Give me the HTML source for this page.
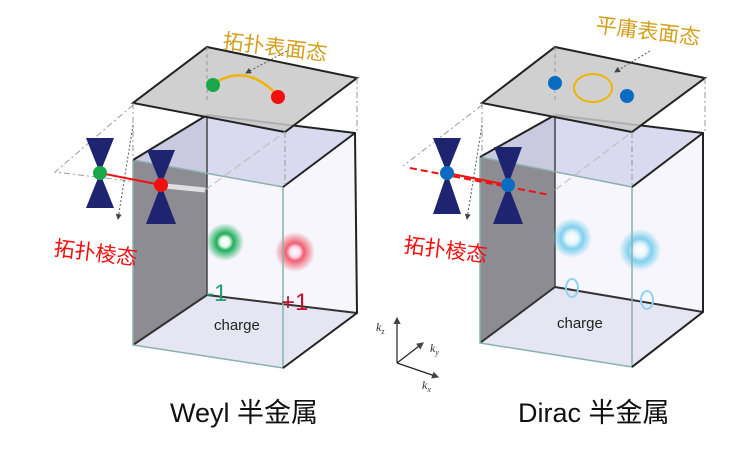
<!DOCTYPE html>
<html><head><meta charset="utf-8"><style>
html,body{margin:0;padding:0;background:#fff;width:750px;height:450px;overflow:hidden}
</style></head><body>
<svg width="750" height="450" viewBox="0 0 750 450" xmlns="http://www.w3.org/2000/svg" font-family="Liberation Sans, Noto Sans CJK SC, sans-serif">
<defs>
<radialGradient id="gG"><stop offset="0" stop-color="#fff"/><stop offset="0.25" stop-color="#e8f8ee"/><stop offset="0.45" stop-color="#1fae5a"/><stop offset="1" stop-color="#1fae5a" stop-opacity="0"/></radialGradient>
<radialGradient id="gR"><stop offset="0" stop-color="#fff"/><stop offset="0.25" stop-color="#fde"/><stop offset="0.45" stop-color="#f06070"/><stop offset="1" stop-color="#f06070" stop-opacity="0"/></radialGradient>
<radialGradient id="gC"><stop offset="0" stop-color="#fff"/><stop offset="0.3" stop-color="#e8f6fb"/><stop offset="0.55" stop-color="#7fd0ee"/><stop offset="1" stop-color="#7fd0ee" stop-opacity="0"/></radialGradient>
<marker id="ar" markerWidth="6" markerHeight="6" refX="5" refY="3" orient="auto"><path d="M0,0 L6,3 L0,6 z" fill="#444"/></marker>
</defs>

<g>
<polygon points="133,160 207,115 207,295 133,345" fill="#8c8c92"/>
<polygon points="207,115 355,133 357,313 207,295" fill="#f6f6fc"/>
<polygon points="133,345 207,295 357,313 283,368" fill="#e6e6f2"/>
<polygon points="133,160 207,115 355,133 283,187" fill="#d4d4ec" opacity="0.85"/>
<line x1="207" y1="115" x2="207" y2="295" stroke="#444" stroke-width="1.5"/>
<line x1="207" y1="295" x2="357" y2="313" stroke="#333" stroke-width="2"/>
<line x1="207" y1="295" x2="133" y2="345" stroke="#333" stroke-width="2"/>
<circle cx="225" cy="242" r="19" fill="url(#gG)"/>
<circle cx="295" cy="252" r="20" fill="url(#gR)"/>
<polyline points="133,160 133,345 283,368 283,187 133,160" fill="none" stroke="#8ab0b0" stroke-width="1.5"/>
<polyline points="133,160 207,115" fill="none" stroke="#222" stroke-width="2"/>
<polyline points="207,115 355,133 357,313 283,368" fill="none" stroke="#222" stroke-width="2"/>
<line x1="283" y1="187" x2="355" y2="133" stroke="#222" stroke-width="2"/>
<polygon points="207,47 357,78 285,132 133,103" fill="#c8c8c8" fill-opacity="0.85" stroke="#222" stroke-width="2"/>
<line x1="207" y1="47" x2="207" y2="103" stroke="#999" stroke-dasharray="4,3"/>
<line x1="357" y1="78" x2="357" y2="133" stroke="#999" stroke-dasharray="6,3,2,3"/>
<line x1="285" y1="132" x2="285" y2="187" stroke="#999" stroke-dasharray="6,3,2,3"/>
<line x1="133" y1="103" x2="133" y2="160" stroke="#999" stroke-dasharray="6,3,2,3"/>
<polyline points="133,105 55,172 205,190" fill="none" stroke="#999" stroke-dasharray="6,3,2,3"/>
<line x1="205" y1="190" x2="285" y2="132" stroke="#bbb" stroke-dasharray="8,4"/>
<line x1="133" y1="125" x2="118" y2="219" stroke="#555" stroke-dasharray="2,2" marker-end="url(#ar)"/>
<line x1="287" y1="51" x2="246" y2="73" stroke="#555" stroke-dasharray="2,2" marker-end="url(#ar)"/>
<path d="M213,84 Q247,62 278,96" fill="none" stroke="#f0b400" stroke-width="2.5"/>
<circle cx="213" cy="85" r="7" fill="#1aa64a"/>
<circle cx="278" cy="97" r="7" fill="#f01010"/>
<line x1="165" y1="186" x2="205" y2="190" stroke="#e0e0e0" stroke-width="5"/>
<polygon points="86,138 114,138 100,173 86,208 114,208 100,173" fill="#1e2470"/>
<polygon points="147,150 175,150 161,185 146,224 176,224 161,185" fill="#1e2470"/>
<line x1="100" y1="173" x2="161" y2="185" stroke="#f01010" stroke-width="2"/>
<circle cx="100" cy="173" r="7" fill="#1aa64a"/>
<circle cx="161" cy="185" r="7" fill="#f01010"/>
<text x="206" y="301" font-size="24" fill="#20a070">-1</text>
<text x="281" y="310" font-size="24" fill="#c01030">+1</text>
<text x="214" y="330" font-size="15" fill="#222">charge</text>
<text x="222" y="48" font-size="21" fill="#d4a020" transform="rotate(7 222 48)">拓扑表面态</text>
<text x="53" y="255" font-size="21" fill="#f01010" transform="rotate(7 53 255)">拓扑棱态</text>
<text x="170" y="422" font-size="27" fill="#111">Weyl 半金属</text>
</g>

<g>
<polygon points="480,157 555,115 555,287 480,343" fill="#8c8c92"/>
<polygon points="555,115 703,133 703,312 555,287" fill="#f6f6fc"/>
<polygon points="480,343 555,287 703,312 632,367" fill="#e6e6f2"/>
<polygon points="480,157 555,115 703,133 632,187" fill="#d4d4ec" opacity="0.85"/>
<line x1="555" y1="115" x2="555" y2="287" stroke="#444" stroke-width="1.5"/>
<line x1="555" y1="287" x2="703" y2="312" stroke="#333" stroke-width="2"/>
<line x1="555" y1="287" x2="480" y2="343" stroke="#333" stroke-width="2"/>
<circle cx="572" cy="238" r="20" fill="url(#gC)"/>
<circle cx="640" cy="250" r="21" fill="url(#gC)"/>
<ellipse cx="572" cy="288" rx="6" ry="9" fill="none" stroke="#8fd4f0" stroke-width="2"/>
<ellipse cx="647" cy="300" rx="6" ry="9" fill="none" stroke="#8fd4f0" stroke-width="2"/>
<polyline points="480,157 480,343 632,367 632,187 480,157" fill="none" stroke="#8ab0b0" stroke-width="1.5"/>
<line x1="480" y1="157" x2="555" y2="115" stroke="#222" stroke-width="2"/>
<polyline points="555,115 703,133 703,312 632,367" fill="none" stroke="#222" stroke-width="2"/>
<line x1="632" y1="187" x2="703" y2="133" stroke="#222" stroke-width="2"/>
<polygon points="555,47 705,78 632,132 482,103" fill="#c8c8c8" fill-opacity="0.85" stroke="#222" stroke-width="2"/>
<line x1="555" y1="47" x2="555" y2="103" stroke="#999" stroke-dasharray="4,3"/>
<line x1="705" y1="78" x2="705" y2="133" stroke="#999" stroke-dasharray="6,3,2,3"/>
<line x1="632" y1="132" x2="632" y2="187" stroke="#999" stroke-dasharray="6,3,2,3"/>
<line x1="482" y1="103" x2="482" y2="157" stroke="#999" stroke-dasharray="6,3,2,3"/>
<polyline points="482,105 403,166" fill="none" stroke="#999" stroke-dasharray="6,3,2,3"/>
<line x1="555" y1="190" x2="632" y2="132" stroke="#bbb" stroke-dasharray="8,4"/>
<line x1="482" y1="125" x2="467" y2="219" stroke="#555" stroke-dasharray="2,2" marker-end="url(#ar)"/>
<line x1="650" y1="51" x2="615" y2="72" stroke="#555" stroke-dasharray="2,2" marker-end="url(#ar)"/>
<circle cx="555" cy="83" r="7" fill="#0a6cc0"/>
<ellipse cx="593" cy="88" rx="19" ry="14" fill="none" stroke="#f0b400" stroke-width="2"/>
<circle cx="627" cy="96" r="7" fill="#0a6cc0"/>
<line x1="410" y1="168" x2="550" y2="195" stroke="#f01010" stroke-width="2" stroke-dasharray="7,4"/>
<line x1="447" y1="173" x2="508" y2="185" stroke="#f01010" stroke-width="2"/>
<polygon points="433,138 461,138 447,173 433,214 461,214 447,173" fill="#1e2470"/>
<polygon points="494,147 522,147 508,185 493,224 523,224 508,185" fill="#1e2470"/>
<circle cx="447" cy="173" r="7" fill="#0a6cc0"/>
<circle cx="508" cy="185" r="7" fill="#0a6cc0"/>
<text x="557" y="328" font-size="15" fill="#222">charge</text>
<text x="595" y="32" font-size="21" fill="#d4a020" transform="rotate(7 595 32)">平庸表面态</text>
<text x="403" y="252" font-size="21" fill="#f01010" transform="rotate(7 403 252)">拓扑棱态</text>
<text x="518" y="422" font-size="27" fill="#111">Dirac 半金属</text>
</g>

<g stroke="#222" stroke-width="1.2" fill="none">
<line x1="397" y1="363" x2="397" y2="318" marker-end="url(#ar)"/>
<line x1="397" y1="363" x2="423" y2="343" marker-end="url(#ar)"/>
<line x1="397" y1="363" x2="438" y2="377" marker-end="url(#ar)"/>
</g>
<g font-family="Liberation Serif, serif" font-style="italic" fill="#333" font-size="12">
<text x="376" y="331">k<tspan font-size="8" dy="3">z</tspan></text>
<text x="430" y="352">k<tspan font-size="8" dy="3">y</tspan></text>
<text x="422" y="389">k<tspan font-size="8" dy="3">x</tspan></text>
</g>
</svg>
</body></html>
